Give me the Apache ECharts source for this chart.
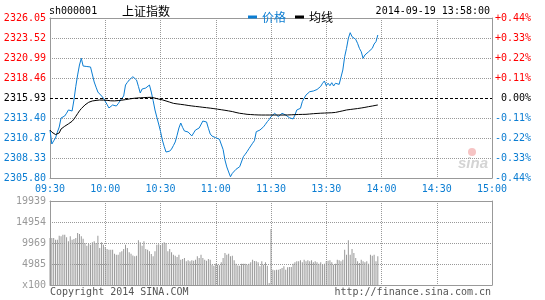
<!DOCTYPE html>
<html>
<head>
<meta charset="utf-8">
<script src="https://cdn.jsdelivr.net/npm/echarts@6/dist/echarts.min.js"></script>
<style>html,body{margin:0;padding:0;background:#fff;}#c{width:545px;height:300px;}</style>
</head>
<body>
<div id="c"></div>
<script>
// ---- data ----
const prevClose = 2315.93;
const priceMin = 2305.80;
const priceMax = 2326.05;
const volMax = 19939;
const leftLabels = ['2305.80','2308.33','2310.87','2313.40','2315.93','2318.46','2320.99','2323.52','2326.05'];
const rightLabels = ['-0.44%','-0.33%','-0.22%','-0.11%',' 0.00%','+0.11%','+0.22%','+0.33%','+0.44%'];
const volLabels = ['x100','4985','9969','14954','19939'];
const price = [
2311.87,2310.10,2310.50,2310.86,2311.60,2312.25,2313.39,2313.50,2313.65,2314.00,
2314.41,2314.20,2314.28,2315.67,2317.40,2318.84,2320.10,2320.95,2319.97,2319.90,
2319.91,2319.95,2319.85,2319.60,2317.95,2317.30,2316.68,2316.50,2316.18,2315.90,
2315.73,2315.10,2314.66,2314.80,2315.04,2314.85,2314.91,2315.20,2315.55,2315.80,
2316.18,2317.57,2317.90,2318.20,2318.35,2318.62,2318.45,2318.20,2317.40,2316.56,
2317.06,2317.15,2317.19,2317.10,2317.57,2316.68,2315.60,2314.41,2313.50,2312.63,
2311.70,2310.61,2309.80,2309.09,2308.96,2309.20,2309.47,2309.90,2310.36,2311.20,
2312.13,2312.76,2312.20,2311.75,2311.80,2311.62,2311.40,2311.12,2311.50,2311.87,
2312.00,2312.13,2312.10,2313.01,2312.95,2312.89,2312.10,2311.37,2311.10,2310.86,
2310.90,2310.99,2310.70,2310.86,2309.40,2308.08,2307.20,2306.56,2305.96,2306.39,
2306.60,2306.90,2306.80,2307.23,2307.23,2308.50,2308.80,2309.13,2309.50,2309.85,
2310.20,2310.52,2311.66,2311.80,2311.87,2312.10,2312.29,2312.60,2312.93,2313.20,
2313.56,2313.77,2313.99,2314.19,2313.56,2313.36,2313.99,2313.86,2313.77,2313.60,
2313.43,2313.35,2313.27,2313.77,2314.41,2314.50,2314.62,2315.46,2315.90,2316.30,
2316.50,2316.72,2316.75,2316.81,2317.06,2317.00,2316.94,2317.40,2317.79,2318.08,
2317.48,2317.79,2317.48,2317.86,2317.44,2317.79,2317.57,2317.65,2317.79,2319.47,
2321.15,2322.21,2323.48,2324.19,2323.68,2323.60,2323.35,2322.85,2322.21,2321.78,
2320.95,2321.37,2321.58,2321.78,2322.00,2322.21,2322.76,2323.05,2323.90
];
const avg = [
2311.87,2311.60,2311.37,2311.30,2311.25,2311.50,2312.00,2312.20,2312.35,2312.50,
2312.65,2312.80,2312.98,2313.25,2313.60,2313.95,2314.30,2314.58,2314.80,2315.05,
2315.25,2315.38,2315.48,2315.55,2315.60,2315.62,2315.65,2315.67,2315.67,2315.66,
2315.65,2315.63,2315.60,2315.57,2315.55,2315.56,2315.58,2315.60,2315.62,2315.65,
2315.67,2315.72,2315.76,2315.80,2315.84,2315.87,2315.90,2315.92,2315.94,2315.95,
2315.96,2315.97,2315.98,2316.00,2316.01,2316.01,2315.97,2315.91,2315.84,2315.79,
2315.74,2315.69,2315.63,2315.55,2315.48,2315.40,2315.32,2315.25,2315.21,2315.18,
2315.15,2315.12,2315.09,2315.06,2315.02,2314.98,2314.95,2314.92,2314.89,2314.86,
2314.84,2314.81,2314.78,2314.75,2314.72,2314.70,2314.67,2314.64,2314.61,2314.58,
2314.55,2314.51,2314.47,2314.44,2314.41,2314.37,2314.33,2314.29,2314.25,2314.21,
2314.15,2314.09,2314.04,2313.99,2313.96,2313.93,2313.89,2313.86,2313.85,2313.83,
2313.82,2313.80,2313.79,2313.78,2313.77,2313.77,2313.77,2313.77,2313.77,2313.77,
2313.77,2313.77,2313.77,2313.77,2313.77,2313.77,2313.77,2313.77,2313.77,2313.78,
2313.79,2313.80,2313.81,2313.82,2313.83,2313.84,2313.85,2313.85,2313.86,2313.86,
2313.88,2313.90,2313.92,2313.94,2313.95,2313.97,2313.99,2314.00,2314.01,2314.02,
2314.03,2314.04,2314.05,2314.06,2314.06,2314.10,2314.15,2314.20,2314.25,2314.30,
2314.36,2314.41,2314.44,2314.47,2314.50,2314.53,2314.56,2314.59,2314.62,2314.66,
2314.70,2314.74,2314.79,2314.83,2314.87,2314.91,2314.95,2315.00,2315.04
];
const volume = [
11150,11150,11150,10760,10760,11710,11550,11940,11940,11310,
10360,11550,10760,10920,11150,12340,12100,11550,11000,9970,
9330,9730,9570,10120,10360,9970,11710,8780,10120,9570,
9020,8540,8380,8380,8380,7440,7200,7200,7750,7990,
8540,9570,8780,7750,7440,7000,6800,6960,10600,10120,
9330,10360,8540,8380,7990,7360,6800,8000,9570,9650,
9330,9970,10120,9970,7990,8540,7750,7200,6960,6640,
7200,6010,6170,6410,5620,5850,5620,5850,5770,6010,
6800,6400,7200,6400,6010,5770,6170,6010,4830,4590,
5060,4830,4700,5380,6410,7590,7200,7440,6800,6960,
5850,5060,4600,4590,5060,5060,5060,4830,5060,5380,
6010,5700,5620,5380,4430,5620,4830,5380,4590,475,
13290,3640,3480,3640,3640,3800,4030,4430,3640,4190,
4270,4270,5060,5380,5620,5620,5850,5380,6010,5620,
5850,5620,5850,5380,5620,5380,5060,5380,4830,5060,
5620,5770,5850,5380,4830,5060,6010,5850,5620,6010,
8390,7200,10600,7200,8540,7590,6410,5620,5220,6010,
5620,5380,5620,5060,7200,6960,7200,5620,6800
];
// trading minutes 09:30-11:30, 13:01-15:00
const minutes = [];
function pad(n){return (n<10?'0':'')+n;}
for (let i = 0; i <= 240; i++) {
  let t = i <= 120 ? 9*60+30+i : 13*60+(i-120);
  minutes.push(pad(Math.floor(t/60)) + ':' + pad(t%60));
}

const BLUE = '#0b7dd2';
const RED = '#ff0000';
const MONO = "'DejaVu Sans Mono', 'Liberation Mono', monospace";
const CJK = "'Noto Sans CJK SC', sans-serif";
const GRIDC = '#999999';
const FRAME = {show: true, onZero: false, lineStyle: {color: '#999', width: 1}};
const every30 = function (idx) { return idx % 30 === 0; };
const dotted = {color: GRIDC, type: 'dotted', width: 1};
const mainColors = [GRIDC,GRIDC,GRIDC,GRIDC,'rgba(0,0,0,0)',GRIDC,GRIDC,GRIDC,GRIDC];

function frameX(gi) {
  return {type: 'category', gridIndex: gi, data: minutes, boundaryGap: false, position: 'top',
    axisLine: FRAME, axisTick: {show: false}, axisLabel: {show: false}, splitLine: {show: false}};
}

const chart = echarts.init(document.getElementById('c'));
chart.setOption({
  animation: false,
  backgroundColor: '#fff',
  legend: {
    left: 243, top: 6,
    icon: 'rect', itemWidth: 9, itemHeight: 3, itemGap: 9,
    textStyle: {fontFamily: CJK, fontSize: 12},
    selectedMode: false,
    data: [
      {name: '价格', textStyle: {color: BLUE}},
      {name: '均线', textStyle: {color: '#000'}}
    ]
  },
  grid: [
    {left: 50, top: 18, width: 442, height: 160},
    {left: 50, top: 201, width: 442, height: 84}
  ],
  xAxis: [
    {type: 'category', gridIndex: 0, data: minutes, boundaryGap: false,
     axisLine: FRAME, axisTick: {show: false},
     axisLabel: {interval: every30, color: BLUE, fontFamily: MONO, fontSize: 10, margin: 6},
     splitLine: {show: true, interval: 29, lineStyle: dotted}},
    {type: 'category', gridIndex: 1, data: minutes, boundaryGap: false,
     axisLine: FRAME, axisTick: {show: false}, axisLabel: {show: false},
     splitLine: {show: true, interval: 29, lineStyle: dotted}},
    frameX(0),
    frameX(1)
  ],
  yAxis: [
    {type: 'value', gridIndex: 0, min: priceMin, max: priceMax, show: false},
    {type: 'value', gridIndex: 0, min: 0, max: 8, interval: 1, position: 'left',
     axisLine: FRAME, axisTick: {show: false},
     axisLabel: {margin: 4, fontFamily: MONO, fontSize: 10,
       formatter: function (v) { return leftLabels[Math.round(v)]; },
       color: function (v) { v = Math.round(v); return v < 4 ? BLUE : (v === 4 ? '#000' : RED); }},
     splitLine: {show: true, lineStyle: {color: mainColors, type: 'dotted', width: 1}}},
    {type: 'value', gridIndex: 0, min: 0, max: 8, interval: 1, position: 'right',
     axisLine: FRAME, axisTick: {show: false},
     axisLabel: {margin: 3, fontFamily: MONO, fontSize: 10,
       formatter: function (v) { return rightLabels[Math.round(v)]; },
       color: function (v) { v = Math.round(v); return v < 4 ? BLUE : (v === 4 ? '#000' : RED); }},
     splitLine: {show: false}},
    {type: 'value', gridIndex: 1, min: 0, max: volMax, interval: volMax / 4, position: 'left',
     axisLine: FRAME, axisTick: {show: false},
     axisLabel: {margin: 4, fontFamily: MONO, fontSize: 10, color: '#999',
       formatter: function (v) { return volLabels[Math.round(v / (volMax / 4))]; }},
     splitLine: {show: true, lineStyle: dotted}},
    {type: 'value', gridIndex: 1, min: 0, max: volMax, interval: volMax / 4, position: 'right',
     axisLine: FRAME, axisTick: {show: false}, axisLabel: {show: false}, splitLine: {show: false}}
  ],
  graphic: [
    {type: 'text', left: 49, top: 6, style: {text: 'sh000001', font: '10px ' + MONO, fill: '#000'}},
    {type: 'text', left: 122, top: 5, style: {text: '上证指数', font: '12px ' + CJK, fill: '#000'}},
    {type: 'text', right: 55, top: 6, style: {text: '2014-09-19 13:58:00', font: '10px ' + MONO, fill: '#000'}},
    {type: 'text', left: 50, top: 287, style: {text: 'Copyright 2014 SINA.COM', font: '10px ' + MONO, fill: '#555'}},
    {type: 'text', right: 54, top: 287, style: {text: 'http://finance.sina.com.cn', font: '10px ' + MONO, fill: '#555'}},
    {type: 'circle', shape: {cx: 472, cy: 152, r: 4}, style: {fill: '#f6c4c4'}, z: 0},
    {type: 'text', left: 458, top: 156, style: {text: 'sina', font: 'italic bold 15px Arial, sans-serif', fill: '#d4d4d4'}, z: 0}
  ],
  series: [
    {name: '价格', type: 'line', xAxisIndex: 0, yAxisIndex: 0, data: price,
     symbol: 'none', color: BLUE, lineStyle: {width: 1, color: BLUE}, z: 3,
     markLine: {silent: true, symbol: 'none', label: {show: false}, animation: false,
       lineStyle: {color: '#000', type: [3, 2], width: 1},
       data: [{yAxis: prevClose}]}},
    {name: '均线', type: 'line', xAxisIndex: 0, yAxisIndex: 0, data: avg,
     symbol: 'none', color: '#000', lineStyle: {width: 1, color: '#000'}, z: 4},
    {name: '成交量', type: 'bar', xAxisIndex: 1, yAxisIndex: 3, data: volume,
     barWidth: 1, itemStyle: {color: '#999'}}
  ]
});
</script>
</body>
</html>
